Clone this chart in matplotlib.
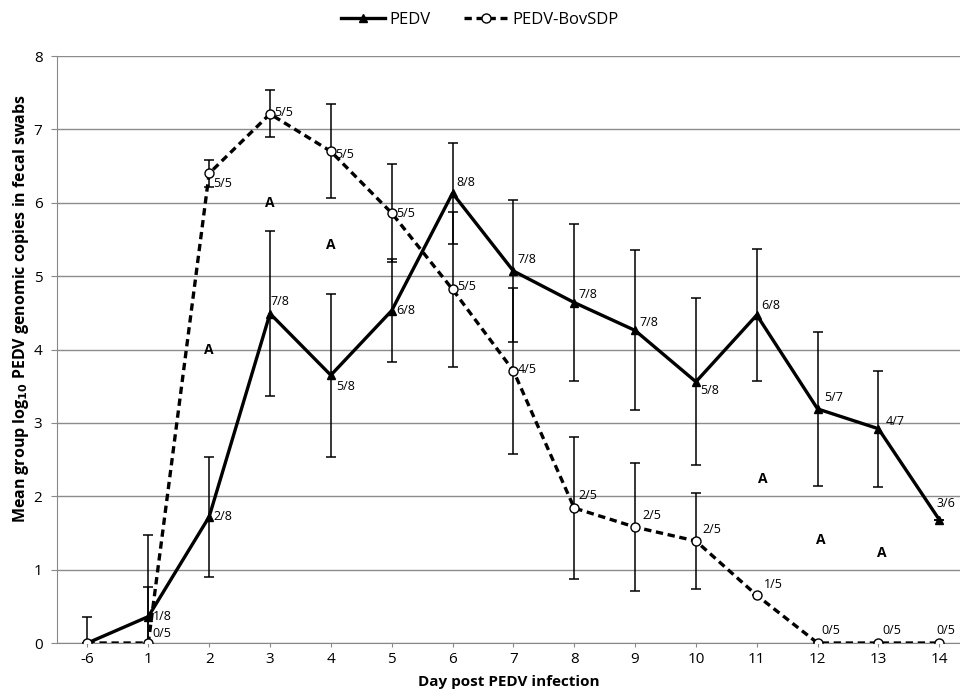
import numpy as np
from matplotlib import pyplot as plt

plt.rcParams['font.family'] = ['Open Sans', 'DejaVu Sans']

days = ['-6', '1', '2', '3', '4', '5', '6', '7', '8', '9', '10', '11', '12', '13', '14']

# PEDV group
pedv = [0, 0.36, 1.72, 4.49, 3.65, 4.53, 6.13, 5.07, 4.64, 4.26, 3.56, 4.47, 3.19, 2.92, 1.68]
pedv_err = [0.35, 1.11, 0.82, 1.13, 1.11, 0.70, 0.69, 0.97, 1.07, 1.09, 1.14, 0.90, 1.05, 0.79, 0]
pedv_pos = ['', '1/8', '2/8', '7/8', '5/8', '6/8', '8/8', '7/8', '7/8', '7/8', '5/8', '6/8', '5/7', '4/7', '3/6']

# PEDV-BovSDP group
bov = [0, 0, 6.40, 7.21, 6.70, 5.86, 4.82, 3.71, 1.84, 1.58, 1.39, 0.65, 0, 0, 0]
bov_err = [0, 0.76, 0.18, 0.32, 0.64, 0.67, 1.06, 1.13, 0.97, 0.87, 0.66, 0, 0, 0, 0]
bov_pos = ['', '0/5', '5/5', '5/5', '5/5', '5/5', '5/5', '4/5', '2/5', '2/5', '2/5', '1/5', '0/5', '0/5', '0/5']

# significance letters (x index, y value)
sig_x = [3, 4, 2, 11.1, 12.05, 13.05]
sig_y = [6.0, 5.42, 4.0, 2.24, 1.41, 1.23]

x = np.arange(len(days))

fig = plt.figure(figsize=(9.6, 7.0), dpi=100)
ax = fig.add_axes([0.0594, 0.0814, 0.9406, 0.8386])

ax.errorbar(x, pedv, yerr=pedv_err, fmt='none', ecolor='black', elinewidth=1.1, capsize=3.5, capthick=1.1, zorder=2)
ax.errorbar(x, bov, yerr=bov_err, fmt='none', ecolor='black', elinewidth=1.1, capsize=3.5, capthick=1.1, zorder=2)

ax.plot(x, pedv, color='black', lw=2.4, marker='^', ms=6, mfc='black', mec='black', label='PEDV', zorder=3)
ax.plot(x, bov, color='black', lw=2.4, ls=(0, (2.2, 1.4)), marker='o', ms=6.5, mfc='white', mec='black',
        mew=1.0, label='PEDV-BovSDP', zorder=4)

# n/N labels
pedv_off = [(0, 0), (3, 0), (3, 0), (0, 9), (4, -8), (3, 0), (3, 8), (3, 8), (3, 6), (3, 6), (3, -6), (3, 7), (5, 8), (5, 5), (-2, 12)]
bov_off = [(0, 0), (3, 7), (3, -7), (3, 1), (3, -2), (3, 0), (3, 2), (3, 1), (3, 9), (5, 8), (5, 8), (5, 8), (3, 9), (3, 9), (-2, 9)]
for i in range(len(x)):
    if pedv_pos[i]:
        ax.annotate(pedv_pos[i], (x[i], pedv[i]), xytext=pedv_off[i], textcoords='offset points',
                    fontsize=9, va='center', ha='left', zorder=5)
    if bov_pos[i]:
        ax.annotate(bov_pos[i], (x[i], bov[i]), xytext=bov_off[i], textcoords='offset points',
                    fontsize=9, va='center', ha='left', zorder=5)

for sx, sy in zip(sig_x, sig_y):
    ax.text(sx, sy, 'A', fontsize=10, fontweight='bold', ha='center', va='center')

ax.set_xlim(-0.5, 14.34)
ax.set_ylim(0, 8)
ax.set_xticks(x)
ax.set_xticklabels(days, fontsize=11)
ax.set_yticks(range(9))
ax.tick_params(axis='y', labelsize=11, length=4.5, pad=6, color='#888888')
ax.tick_params(axis='x', length=3, color='#888888')
ax.yaxis.grid(True, color='#8c8c8c', lw=1)
ax.set_axisbelow(True)
for s in ['top', 'right']:
    ax.spines[s].set_visible(False)
for s in ['left', 'bottom']:
    ax.spines[s].set_color('#888888')

ax.set_xlabel('Day post PEDV infection', fontsize=11, fontweight='bold', labelpad=6)
ax.set_ylabel('Mean group log$_{\\mathbf{10}}$ PEDV genomic copies in fecal swabs', fontsize=11.5, fontweight='bold')
ax.yaxis.set_label_coords(-0.029, 0.57)

fig.legend(loc='upper center', bbox_to_anchor=(0.5, 1.005), ncol=2, frameon=False, fontsize=12,
           handlelength=2.6, columnspacing=2.0, handletextpad=0.3)

fig.savefig('out.png', dpi=100)
